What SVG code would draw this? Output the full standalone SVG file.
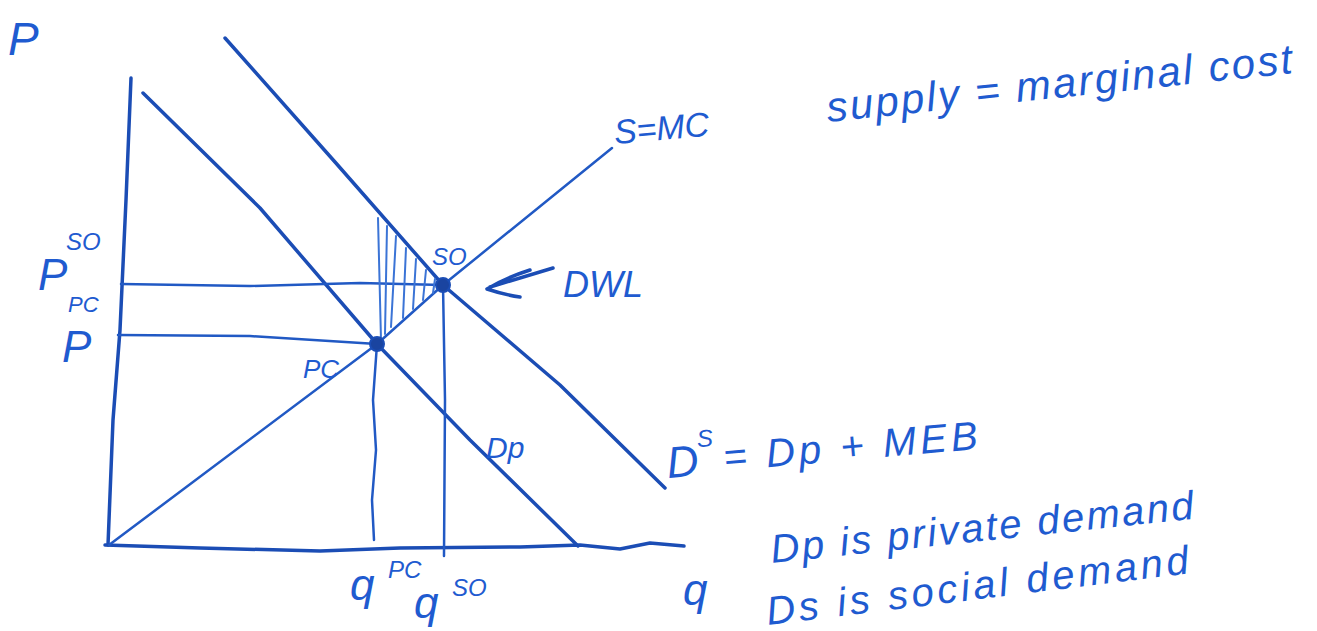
<svg xmlns="http://www.w3.org/2000/svg" width="1317" height="631" viewBox="0 0 1317 631">
<style>
.ln{fill:none;stroke:#1b4db5;stroke-width:3.5;stroke-linecap:round;stroke-linejoin:round}
.th{fill:none;stroke:#2159c4;stroke-width:2.5;stroke-linecap:round;stroke-linejoin:round}
.hatch{fill:none;stroke:#3b74d6;stroke-width:2;stroke-linecap:round}
.t{font-family:"Liberation Sans",sans-serif;fill:#1f5bd0;font-style:italic}
.pt{fill:#1a44a0;stroke:#1b4db5;stroke-width:2}
</style>
<rect width="1317" height="631" fill="#ffffff"/>
<g id="connectors">
  <path id="y-axis" class="ln" d="M131,78 L126,200 L120,330 L113,420 L108,545"/>
  <path id="x-axis" class="ln" d="M105,545 L200,548 L320,551 L400,548 L520,547 L580,545 L620,549 L650,543 L684,546"/>
  <path id="supply" class="th" d="M109,545 L377,344 L443,285 L612,148"/>
  <path id="demand-social" class="ln" d="M225,38 L335,162 L443,285 L560,385 L665,488"/>
  <path id="demand-private" class="ln" d="M143,93 L260,208 L377,344 L470,440 L578,546"/>
  <path id="h-pso" class="th" d="M121,284 L250,286 L360,283 L443,285"/>
  <path id="h-ppc" class="th" d="M118,335 L250,336 L377,344"/>
  <path id="v-qso" class="th" d="M443,285 L445,400 L444,556"/>
  <path id="v-qpc" class="th" d="M377,344 L373,400 L376,450 L372,500 L374,540"/>
  <path id="dwl-arrow" class="ln" d="M553,268 L490,287 M530,270 Q505,278 487,289 Q505,295 520,297"/>
</g>
<g id="dwl-shading">
  <path class="hatch" d="M378,218 L381,340"/>
  <path class="hatch" d="M387,226 L385,334"/>
  <path class="hatch" d="M396,236 L391,327"/>
  <path class="hatch" d="M406,248 L403,318"/>
  <path class="hatch" d="M416,259 L413,309"/>
  <path class="hatch" d="M426,270 L423,300"/>
  <path class="hatch" d="M435,279 L433,293"/>
</g>
<g id="node-so">
  <circle class="pt" cx="443" cy="285" r="7"/>
  <text class="t" x="432" y="265" font-size="24">SO</text>
</g>
<g id="node-pc">
  <circle class="pt" cx="377" cy="344" r="7"/>
  <text class="t" x="303" y="378" font-size="26">PC</text>
</g>
<g id="labels">
  <text class="t" x="8" y="55" font-size="46">P</text>
  <text class="t" x="38" y="290" font-size="44">P</text>
  <text class="t" x="66" y="250" font-size="24">SO</text>
  <text class="t" x="68" y="312" font-size="22">PC</text>
  <text class="t" x="62" y="362" font-size="44">P</text>
  <text class="t" x="563" y="297" font-size="36">DWL</text>
  <text class="t" x="615" y="144" font-size="34" transform="rotate(-5 615 144)">S=MC</text>
  <text class="t" x="828" y="122" font-size="42" textLength="468" transform="rotate(-6 828 122)">supply = marginal cost</text>
  <text class="t" x="486" y="458" font-size="30">Dp</text>
  <text class="t" x="668" y="478" font-size="44" transform="rotate(-5 668 478)">D</text>
  <text class="t" x="700" y="450" font-size="24" transform="rotate(-5 668 478)">S</text>
  <text class="t" x="725" y="476" font-size="40" textLength="255" transform="rotate(-5 668 478)">= Dp + MEB</text>
  <text class="t" x="772" y="563" font-size="40" textLength="425" transform="rotate(-6 772 563)">Dp  is  private demand</text>
  <text class="t" x="768" y="625" font-size="40" textLength="425" transform="rotate(-7 768 625)">Ds  is  social  demand</text>
  <text class="t" x="350" y="600" font-size="44">q</text>
  <text class="t" x="388" y="578" font-size="24">PC</text>
  <text class="t" x="414" y="618" font-size="44">q</text>
  <text class="t" x="452" y="596" font-size="24">SO</text>
  <text class="t" x="683" y="605" font-size="44">q</text>
</g>
</svg>
